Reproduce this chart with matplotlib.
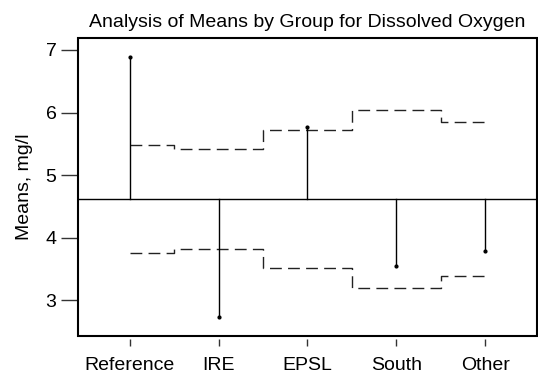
import matplotlib
matplotlib.use("Agg")
import matplotlib.pyplot as plt
from matplotlib.patches import Rectangle

# ---------------- Data ----------------
groups = ["Reference", "IRE", "EPSL", "South", "Other"]
group_means = [6.89, 2.73, 5.77, 3.55, 3.78]
upper_limit = [5.48, 5.41, 5.72, 6.04, 5.85]
lower_limit = [3.76, 3.82, 3.51, 3.19, 3.39]
grand_mean = 4.62
y_ticks = [3, 4, 5, 6, 7]

# ---------------- Style ----------------
plt.rcParams.update({
    "font.family": ["Liberation Sans", "DejaVu Sans"],
    "font.size": 14,
    "xtick.labelsize": 14,
    "ytick.labelsize": 14,
})

fig = plt.figure(figsize=(5.38, 3.77), dpi=100)
ax = fig.add_axes([0.145, 0.109, 0.853, 0.79])

x = list(range(1, len(groups) + 1))

# step line for decision limits: level i spans [i-0.5, i+0.5], clipped to [1, n]
def step_xy(levels):
    xs, ys = [], []
    n = len(levels)
    for i, v in enumerate(levels):
        lo = max(1, x[i] - 0.5)
        hi = min(n, x[i] + 0.5)
        xs += [lo, hi]
        ys += [v, v]
    return xs, ys

dash = (0, (8.5, 4.5))
ux, uy = step_xy(upper_limit)
lx, ly = step_xy(lower_limit)
ax.plot(ux, uy, color="#222222", lw=1.0, linestyle=dash)
ax.plot(lx, ly, color="#222222", lw=1.0, linestyle=dash)

# center line and stems
ax.axhline(grand_mean, color="black", lw=1.0)
for xi, m in zip(x, group_means):
    ax.plot([xi, xi], [grand_mean, m], color="black", lw=1.0)
ax.plot(x, group_means, "o", color="black", ms=2.0, linestyle="none")

ax.set_xlim(0.42, 5.58)
ax.set_ylim(2.43, 7.19)
ax.set_xticks(x)
ax.set_xticklabels(groups)
ax.set_yticks(y_ticks)

# ticks sit slightly away from the frame
for side in ["top", "right", "bottom", "left"]:
    ax.spines[side].set_visible(False)
ax.spines["left"].set_position(("outward", 1))
ax.spines["bottom"].set_position(("outward", 2))
ax.add_patch(Rectangle((0, 0), 1, 1, transform=ax.transAxes, fill=False,
                       lw=1.5, edgecolor="black", clip_on=False, zorder=5))

ax.tick_params(axis="y", length=11.5, width=1.0, color="#333333", pad=3)
ax.tick_params(axis="x", length=5, width=1.0, color="#333333", pad=8)

ax.set_ylabel("Means, mg/l", labelpad=9)
ax.set_title("Analysis of Means by Group for Dissolved Oxygen", fontsize=14, pad=8)

fig.savefig("out.png", dpi=100)
